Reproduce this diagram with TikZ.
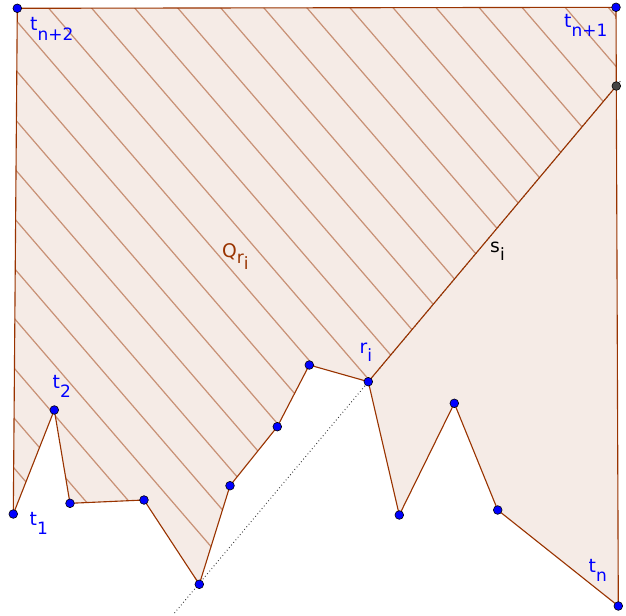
\documentclass[tikz,border=0pt]{standalone}
\usepackage{fontspec}
\setmainfont{DejaVu Sans}
\definecolor{polybrown}{RGB}{153,51,0}
\definecolor{polyfill}{RGB}{245,235,230}
\definecolor{hatchbrown}{RGB}{200,145,118}
\definecolor{ptgray}{RGB}{68,68,68}
\newcommand{\sublab}[3][8.5pt]{#2\raisebox{-#1}{\fontsize{14.5}{14.5}\selectfont #3}}

\begin{document}
\begin{tikzpicture}[x=0.03cm,y=-0.03cm,
 edge/.style={polybrown,line width=0.95pt,line join=round},
 hatchline/.style={hatchbrown,line width=1.05pt},
 dotline/.style={black!80,line width=0.8pt,dash pattern=on 0.7pt off 2.2pt},
 pt/.style={circle,draw=black,fill=blue,line width=0.5pt,inner sep=0pt,minimum size=7.4pt},
 ipt/.style={pt,fill=ptgray},
 lab/.style={anchor=base west,inner sep=0pt,font=\fontsize{16}{16}\selectfont,text=blue}
]
\useasboundingbox (0,0) rectangle (626,615);
\coordinate (tnt) at (17.3,8.3);
\coordinate (tno) at (616,7.3);
\coordinate (si) at (616.3,86);
\coordinate (tn) at (618.3,606);
\coordinate (l) at (497.7,510);
\coordinate (k) at (454.3,403.3);
\coordinate (h) at (399.3,515);
\coordinate (ri) at (368.3,381.7);
\coordinate (f) at (309.3,365);
\coordinate (e) at (277.3,426.7);
\coordinate (d) at (230,485.7);
\coordinate (c) at (199.3,584.3);
\coordinate (b) at (144,500);
\coordinate (a) at (70,503.3);
\coordinate (t2) at (54.3,410);
\coordinate (t1) at (13.3,514);
\coordinate (lineend) at (174.5,613);
\coordinate (linetop) at (621.5,79.8);

\fill[polyfill] (tnt) -- (tno) -- (tn) -- (l) -- (k) -- (h) -- (ri) -- (f) -- (e) -- (d)
  -- (c) -- (b) -- (a) -- (t2) -- (t1) -- cycle;
\begin{scope}
\clip (tnt) -- (tno) -- (si) -- (ri) -- (f) -- (e) -- (d) -- (c) -- (b) -- (a) -- (t2)
  -- (t1) -- cycle;
\foreach \k in {-15,...,13}
  \draw[hatchline] (-10,{1.78+50*\k-11.6}) -- (640,{1.78+50*\k+742.4});
\end{scope}
\draw[dotline] (lineend) -- (linetop);
\draw[edge] (tnt) -- (tno) -- (tn) -- (l) -- (k) -- (h) -- (ri) -- (f) -- (e) -- (d)
  -- (c) -- (b) -- (a) -- (t2) -- (t1) -- cycle;
\draw[edge] (ri) -- (si);

\foreach \p in {tnt,tno,tn,l,k,h,ri,f,e,d,c,b,a,t2,t1}
  \node[pt] (\p-dot) at (\p) {};
\node[ipt] (si-dot) at (si) {};

\node[lab] (tntlab) at (30,30.3) {\sublab{t}{n+2}};
\node[lab] (tnolab) at (564,27) {\sublab{t}{n+1}};
\node[lab] (tnlab) at (588.5,572) {\sublab{t}{n}};
\node[lab] (t2lab) at (52.5,388) {\sublab{t}{2}};
\node[lab] (t1lab) at (29.5,525) {\sublab{t}{1}};
\node[lab] (rilab) at (359.5,353) {\sublab[7pt]{r}{i}};
\node[lab,text=black] (silab) at (490,252) {\sublab[7pt]{s}{i}};
\node[lab,text=polybrown] (qlab) at (222,257)
  {Q\raisebox{-5.5pt}{\fontsize{14.5}{14.5}\selectfont r\raisebox{-5.5pt}{i}}};
\end{tikzpicture}
\end{document}
